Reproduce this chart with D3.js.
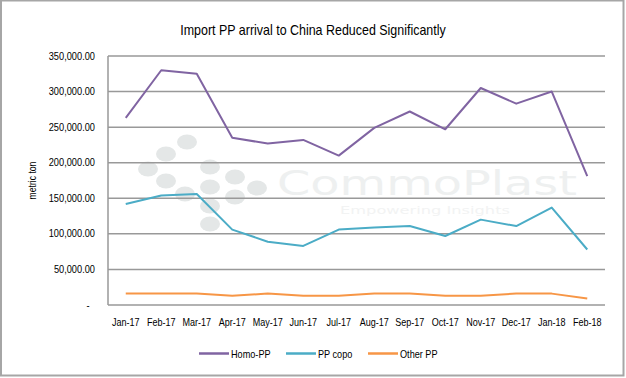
<!DOCTYPE html>
<html>
<head>
<meta charset="utf-8">
<script src="https://cdn.jsdelivr.net/npm/d3@7/dist/d3.min.js"></script>
<style>
  html, body { margin: 0; padding: 0; background: #fff; }
  svg { display: block; }
  text { font-family: "Liberation Sans", Arial, sans-serif; }
</style>
</head>
<body>
<svg id="chart" width="626" height="378"></svg>
<script>
const title = "Import PP arrival to China Reduced Significantly";
const categories = ["Jan-17","Feb-17","Mar-17","Apr-17","May-17","Jun-17","Jul-17","Aug-17","Sep-17","Oct-17","Nov-17","Dec-17","Jan-18","Feb-18"];
const homoPP  = [263000, 330000, 325000, 235000, 227000, 232000, 210000, 249000, 272000, 247000, 305000, 283000, 300000, 181000];
const ppCopo  = [142000, 154000, 156000, 106000, 89000, 83000, 106000, 109000, 111000, 97000, 120000, 111000, 137000, 78000];
const otherPP = [16000, 16000, 16000, 13000, 16000, 13000, 13000, 16000, 16000, 13000, 13000, 16000, 16000, 9000];
const seriesNames = ["Homo-PP", "PP copo", "Other PP"];
const seriesColors = ["#8064a2", "#4bacc6", "#f79646"];
const yTicks = [0, 50000, 100000, 150000, 200000, 250000, 300000, 350000];
const yAxisTitle = "metric ton";

const svg = d3.select("#chart");
const plot = { left: 108, right: 605, top: 56, bottom: 305 };

const x = d3.scaleBand().domain(categories).range([plot.left, plot.right]).padding(0);
const y = d3.scaleLinear().domain([0, 350000]).range([plot.bottom, plot.top]);

// condense text horizontally (reference uses a narrow font)
function condense(sel, factor) {
  sel.each(function () {
    const len = this.getComputedTextLength();
    d3.select(this).attr("textLength", len * factor).attr("lengthAdjust", "spacingAndGlyphs");
  });
}

// outer border
svg.append("rect").attr("x", 1).attr("y", 0.5).attr("width", 622.5).attr("height", 375)
  .attr("fill", "#fff").attr("stroke", "#a6a6a6").attr("stroke-width", 2);

// watermark (behind grid)
const wm = svg.append("g").attr("class", "watermark");
const dots = [[187,142],[166,154],[148,169],[210,167],[166,181],[235,177],[210,187],[185,194],[257,188],[235,197],[210,206],[210,224]];
wm.selectAll("ellipse").data(dots).join("ellipse")
  .attr("cx", d => d[0]).attr("cy", d => d[1]).attr("rx", 10).attr("ry", 7.5)
  .attr("fill", "#e4e7e7");
wm.append("text").attr("x", 277).attr("y", 195)
  .attr("textLength", 300).attr("lengthAdjust", "spacingAndGlyphs")
  .style("font-family", "'DejaVu Sans', sans-serif").style("font-size", "33px")
  .attr("fill", "#eef0f0").text("CommoPlast");
wm.append("text").attr("x", 340).attr("y", 214)
  .attr("textLength", 170).attr("lengthAdjust", "spacingAndGlyphs")
  .style("font-family", "'DejaVu Sans', sans-serif").style("font-size", "11px")
  .attr("fill", "#f2f3f3").text("Empowering Insights");

// gridlines
svg.append("g").selectAll("line").data(yTicks.filter(t => t > 0)).join("line")
  .attr("x1", plot.left).attr("x2", plot.right)
  .attr("y1", d => y(d)).attr("y2", d => y(d))
  .attr("stroke", "#999").attr("stroke-width", 1.5);

// axes lines
svg.append("line").attr("x1", plot.left).attr("x2", plot.left).attr("y1", plot.top).attr("y2", plot.bottom)
  .attr("stroke", "#999").attr("stroke-width", 1.5);
svg.append("line").attr("x1", plot.left).attr("x2", plot.right).attr("y1", plot.bottom).attr("y2", plot.bottom)
  .attr("stroke", "#999").attr("stroke-width", 1.5);

// y tick labels
const fmt = d3.format(",.2f");
svg.append("g").selectAll("text").data(yTicks).join("text")
  .attr("x", d => d === 0 ? 88 : 95).attr("y", d => y(d) + 3.5)
  .attr("text-anchor", d => d === 0 ? "middle" : "end")
  .style("font-size", "10.5px").attr("fill", "#000")
  .text(d => d === 0 ? "-" : fmt(d))
  .call(condense, 0.88);

// y axis title
svg.append("text").attr("transform", `translate(36,${(plot.top + plot.bottom) / 2}) rotate(-90)`)
  .attr("text-anchor", "middle").style("font-size", "10.5px").attr("fill", "#000").text(yAxisTitle)
  .call(condense, 0.82);

// x labels
svg.append("g").selectAll("text").data(categories).join("text")
  .attr("x", d => x(d) + x.bandwidth() / 2).attr("y", 326)
  .attr("text-anchor", "middle").style("font-size", "11px").attr("fill", "#000")
  .text(d => d)
  .call(condense, 0.82);

// series
const allSeries = [homoPP, ppCopo, otherPP];
const line = d3.line().x((d, i) => x(categories[i]) + x.bandwidth() / 2).y(d => y(d));
allSeries.forEach((vals, k) => {
  svg.append("path").datum(vals).attr("d", line)
    .attr("fill", "none").attr("stroke", seriesColors[k]).attr("stroke-width", 2)
    .attr("stroke-linejoin", "round");
});

// title
svg.append("text").attr("x", 313).attr("y", 35).attr("text-anchor", "middle")
  .style("font-size", "15px").attr("fill", "#000").text(title)
  .call(condense, 0.83);

// legend
const legendX = [199, 286, 368];
const lg = svg.append("g");
seriesNames.forEach((n, k) => {
  lg.append("line").attr("x1", legendX[k]).attr("x2", legendX[k] + 30)
    .attr("y1", 353.5).attr("y2", 353.5).attr("stroke", seriesColors[k]).attr("stroke-width", 2.5);
  lg.append("text").attr("x", legendX[k] + 32).attr("y", 357.5)
    .style("font-size", "11px").attr("fill", "#000").text(n)
    .call(condense, 0.83);
});
</script>
</body>
</html>
